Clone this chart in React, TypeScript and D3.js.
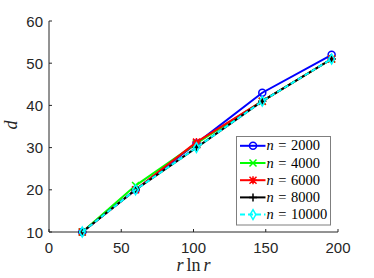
import React from "react";
import { scaleLinear, line, symbol, symbolDiamond } from "d3";

const xs = [23.03, 59.9, 102.04, 147.6, 195.6];
const n2000 = [10, 20, 31, 43, 52];
const n4000 = [10, 21, 31, 41, 51];
const n6000 = [10, 20, 31.3, 41, 51];
const n8000 = [10, 20, 30, 41, 51];
const n10000 = [10, 20, 30, 41, 51];
const xTicks = [0, 50, 100, 150, 200];
const yTicks = [10, 20, 30, 40, 50, 60];

const series = [
  { label: "2000", values: n2000, color: "#0000ff", marker: "circle", dash: "" },
  { label: "4000", values: n4000, color: "#00ff00", marker: "x", dash: "" },
  { label: "6000", values: n6000, color: "#ff0000", marker: "star", dash: "" },
  { label: "8000", values: n8000, color: "#000000", marker: "plus", dash: "" },
  { label: "10000", values: n10000, color: "#00ffff", marker: "diamond", dash: "5,3" },
];

const W = 374;
const H = 278;
const left = 49;
const right = 338;
const top = 21;
const bottom = 232;
const axisColor = "#262626";

function Marker({ kind, x, y, color }: { kind: string; x: number; y: number; color: string }) {
  const s = 3.5;
  if (kind === "circle")
    return <circle cx={x} cy={y} r={s} fill="none" stroke={color} strokeWidth={1.5} />;
  if (kind === "diamond")
    return (
      <path
        d={symbol(symbolDiamond, 28)()!}
        transform={`translate(${x},${y})`}
        fill="none"
        stroke={color}
        strokeWidth={1.5}
      />
    );
  if (kind === "x")
    return (
      <path d={`M${x - s},${y - s}L${x + s},${y + s}M${x - s},${y + s}L${x + s},${y - s}`} stroke={color} strokeWidth={1.5} />
    );
  if (kind === "plus")
    return <path d={`M${x - 4},${y}L${x + 4},${y}M${x},${y - 4}L${x},${y + 4}`} stroke={color} strokeWidth={1.5} />;
  // star
  return (
    <path
      d={`M${x - s},${y - s}L${x + s},${y + s}M${x - s},${y + s}L${x + s},${y - s}M${x - 4},${y}L${x + 4},${y}M${x},${y - 4}L${x},${y + 4}`}
      stroke={color}
      strokeWidth={1.5}
    />
  );
}

export default function App() {
  const x = scaleLinear().domain([0, 200]).range([left, right]);
  const y = scaleLinear().domain([10, 60]).range([bottom, top]);
  const lineGen = line<number>()
    .x((_, i) => x(xs[i]))
    .y((d) => y(d));

  const lgX = 236.5;
  const lgY = 136.5;
  const lgW = 94;
  const lgH = 88.5;
  const rowH = 17.2;

  return (
    <svg
      width={W}
      height={H}
      style={{ position: "absolute", left: 0, top: 0, background: "#fff" }}
      fontFamily="Liberation Sans, Arial, sans-serif"
    >
      {/* axes */}
      <line x1={left} x2={left} y1={top} y2={bottom} stroke={axisColor} strokeWidth={1} />
      <line x1={left} x2={right} y1={bottom} y2={bottom} stroke={axisColor} strokeWidth={1} />
      {yTicks.map((t) => (
        <g key={t}>
          <line x1={left} x2={left + 3} y1={y(t)} y2={y(t)} stroke={axisColor} />
          <text x={left - 6} y={y(t) + 5.5} textAnchor="end" fontSize={15} fill={axisColor}>
            {t}
          </text>
        </g>
      ))}
      {xTicks.map((t) => (
        <g key={t}>
          <line x1={x(t)} x2={x(t)} y1={bottom} y2={bottom - 3} stroke={axisColor} />
          <text x={x(t)} y={bottom + 21} textAnchor="middle" fontSize={15} fill={axisColor}>
            {t}
          </text>
        </g>
      ))}
      <text
        x={17}
        y={125}
        transform="rotate(-90, 17, 125)"
        textAnchor="middle"
        fontSize={18}
        fontStyle="italic"
        fontFamily="Liberation Serif, serif"
        fill={axisColor}
      >
        d
      </text>
      <text x={(left + right) / 2} y={271} textAnchor="middle" fontSize={18} fontFamily="Liberation Serif, serif" fill={axisColor}>
        <tspan fontStyle="italic">r</tspan>
        <tspan dx={3}>ln</tspan>
        <tspan dx={3} fontStyle="italic">r</tspan>
      </text>

      {/* series */}
      {series.map((s) => (
        <g key={s.label}>
          <path d={lineGen(s.values)!} fill="none" stroke={s.color} strokeWidth={2} strokeDasharray={s.dash} />
          {s.values.map((v, i) => (
            <Marker key={i} kind={s.marker} x={x(xs[i])} y={y(v)} color={s.color} />
          ))}
        </g>
      ))}

      {/* legend */}
      <rect x={lgX} y={lgY} width={lgW} height={lgH} fill="#fff" stroke="#7f7f7f" strokeWidth={1} />
      {series.map((s, i) => {
        const cy = lgY + 9.3 + i * rowH;
        return (
          <g key={s.label}>
            <line x1={lgX + 3.5} x2={lgX + 29} y1={cy} y2={cy} stroke={s.color} strokeWidth={2} strokeDasharray={s.dash} />
            <Marker kind={s.marker} x={lgX + 16.5} y={cy} color={s.color} />
            <text x={lgX + 30} y={cy + 4.5} fontSize={14.5} fontFamily="Liberation Serif, serif" fill="#000">
              <tspan fontStyle="italic">n</tspan>
              <tspan dx={4.5}>=</tspan>
              <tspan dx={4.5}>{s.label}</tspan>
            </text>
          </g>
        );
      })}
    </svg>
  );
}
